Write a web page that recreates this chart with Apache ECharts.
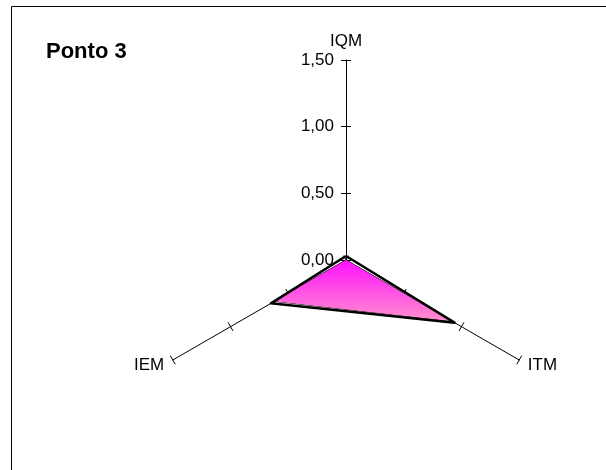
<!DOCTYPE html>
<html>
<head>
<meta charset="utf-8">
<style>
  html, body { margin: 0; padding: 0; background: #ffffff; }
  #chart { width: 606px; height: 470px; }
</style>
<script src="https://cdn.jsdelivr.net/npm/echarts@6/dist/echarts.min.js"></script>
</head>
<body>
<div id="chart"></div>
<script>
// Indicator names (counter-clockwise from the top) and scale
const indicators = ['IQM', 'IEM', 'ITM'];
const axisMax = 1.5;
const axisStep = 0.5;

// Index values, same order as the indicators
const limitValues = [0.03, 0.65, 0.94];   // black outline
const pointValues = [0.00, 0.62, 0.92];   // pink area

const chartTitle = 'Ponto 3';

const fmt = v => Number(v).toFixed(2).replace('.', ',');

const center = [346, 260];
const radius = 200;
const font = 'Liberation Sans, Arial, sans-serif';

const indicatorList = indicators.map((name, i) => ({
  name: name,
  min: 0,
  max: axisMax,
  axisLabel: { show: i === 0 }
}));

const chart = echarts.init(document.getElementById('chart'), null, { renderer: 'canvas' });

const baseRadar = {
  center: center,
  radius: radius,
  startAngle: 90,
  shape: 'polygon',
  splitNumber: axisMax / axisStep,
  splitLine: { show: false },
  splitArea: { show: false }
};

chart.setOption({
  animation: false,
  backgroundColor: '#ffffff',
  title: {
    text: chartTitle,
    left: 41,
    top: 36,
    textStyle: { fontFamily: font, fontWeight: 'bold', fontSize: 22, color: '#000' }
  },
  graphic: [{
    type: 'rect',
    shape: { x: 11.5, y: 6.5, width: 700, height: 600 },
    style: { fill: 'none', stroke: '#000', lineWidth: 1 },
    silent: true
  }],
  radar: [
    Object.assign({}, baseRadar, {
      indicator: indicatorList,
      nameGap: 10,
      axisName: { color: '#000', fontFamily: font, fontSize: 17 },
      axisLine: { lineStyle: { color: '#000', width: 1 } },
      axisTick: { show: true, length: 5, lineStyle: { color: '#000', width: 1 } },
      axisLabel: {
        show: true,
        color: '#000',
        fontFamily: font,
        fontSize: 17,
        margin: 12,
        formatter: fmt
      }
    }),
    // same axes again, only to draw the other half of each cross tick
    Object.assign({}, baseRadar, {
      indicator: indicators.map(name => ({ name: name, min: 0, max: axisMax })),
      axisName: { show: false },
      axisLine: { show: false },
      axisTick: { show: true, length: -5, lineStyle: { color: '#000', width: 1 } },
      axisLabel: { show: false }
    })
  ],
  series: [
    {
      type: 'radar',
      radarIndex: 0,
      symbol: 'none',
      z: 2,
      data: [{
        value: pointValues,
        lineStyle: { color: '#222', width: 1 },
        areaStyle: {
          opacity: 1,
          color: new echarts.graphic.LinearGradient(0, 0, 0, 1, [
            { offset: 0, color: '#ff10ff' },
            { offset: 1, color: '#ff90cc' }
          ])
        }
      }]
    },
    {
      type: 'radar',
      radarIndex: 0,
      symbol: 'none',
      z: 3,
      data: [{
        value: limitValues,
        lineStyle: { color: '#000', width: 2.5 }
      }]
    }
  ]
});
</script>
</body>
</html>
